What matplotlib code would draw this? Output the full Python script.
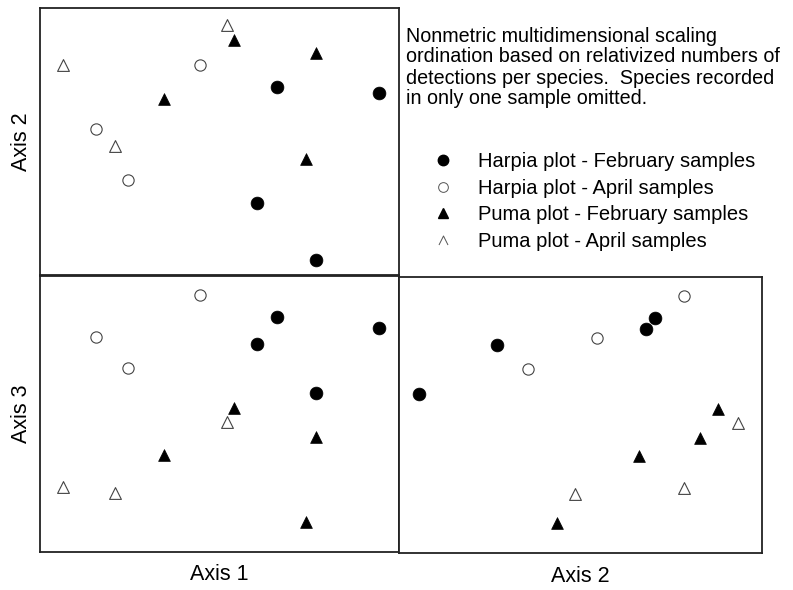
import matplotlib
matplotlib.use("Agg")
import matplotlib.pyplot as plt
from matplotlib.lines import Line2D
from matplotlib.path import Path

plt.rcParams['font.family'] = ['Liberation Sans', 'DejaVu Sans']

# NMS scores (axis ranges -1..1)
harpia_feb_ax1 = [0.32, 0.89, 0.21, 0.54]
harpia_feb_ax2 = [0.41, 0.36, -0.46, -0.89]
harpia_feb_ax3 = [0.70, 0.62, 0.51, 0.15]

harpia_apr_ax1 = [-0.11, -0.69, -0.51]
harpia_apr_ax2 = [0.57, 0.09, -0.29]
harpia_apr_ax3 = [0.86, 0.56, 0.33]

puma_feb_ax1 = [0.08, 0.54, -0.31, 0.48]
puma_feb_ax2 = [0.76, 0.66, 0.32, -0.13]
puma_feb_ax3 = [0.04, -0.17, -0.30, -0.78]

puma_apr_ax1 = [0.04, -0.87, -0.58]
puma_apr_ax2 = [0.87, 0.57, -0.03]
puma_apr_ax3 = [-0.06, -0.53, -0.57]

legend_labels = ["Harpia plot - February samples",
                 "Harpia plot - April samples",
                 "Puma plot - February samples",
                 "Puma plot - April samples"]

note_lines = ["Nonmetric multidimensional scaling",
              "ordination based on relativized numbers of",
              "detections per species.  Species recorded",
              "in only one sample omitted."]

groups = [
    dict(ax=(harpia_feb_ax1, harpia_feb_ax2, harpia_feb_ax3), marker='o', s=85, fc='black', ec='black', lw=0.5),
    dict(ax=(harpia_apr_ax1, harpia_apr_ax2, harpia_apr_ax3), marker='o', s=66, fc='white', ec='#444444', lw=0.8),
    dict(ax=(puma_feb_ax1, puma_feb_ax2, puma_feb_ax3), marker='^', s=72, fc='black', ec='black', lw=0.5),
    dict(ax=(puma_apr_ax1, puma_apr_ax2, puma_apr_ax3), marker='^', s=72, fc='white', ec='#444444', lw=0.8),
]

W, H = 793, 590
fig = plt.figure(figsize=(W / 100, H / 100), dpi=100)

def box(l, t, r, b):
    return [l / W, 1 - b / H, (r - l) / W, (b - t) / H]

ax12 = fig.add_axes(box(40, 8, 399, 275))
ax13 = fig.add_axes(box(40, 276, 399, 552))
ax23 = fig.add_axes(box(399, 277, 762, 553))

panels = [(ax12, 0, 1), (ax13, 0, 2), (ax23, 1, 2)]
for ax, ix, iy in panels:
    for g in groups:
        ax.scatter(g['ax'][ix], g['ax'][iy], marker=g['marker'], s=g['s'],
                   facecolor=g['fc'], edgecolor=g['ec'], linewidth=g['lw'], zorder=3)
    ax.set_xlim(-1, 1)
    ax.set_ylim(-1, 1)
    ax.set_xticks([])
    ax.set_yticks([])
    for sp in ax.spines.values():
        sp.set_linewidth(1.3)
        sp.set_color('#222222')

ax12.set_ylabel('Axis 2', fontsize=15.5, labelpad=6)
ax13.set_ylabel('Axis 3', fontsize=15.5, labelpad=6)
ax13.set_xlabel('Axis 1', fontsize=15.5, labelpad=9)
ax23.set_xlabel('Axis 2', fontsize=15.5, labelpad=9)

# note in the upper right corner
for i, line in enumerate(note_lines):
    fig.text(406 / W, 1 - (36 + i * 21) / H, line, fontsize=14.2, va='center', ha='left')

caret = Path([(-1, -1), (0, 1), (1, -1)], [Path.MOVETO, Path.LINETO, Path.LINETO])
handles = [
    Line2D([], [], linestyle='none', marker='o', markersize=7.5, mfc='black', mec='black'),
    Line2D([], [], linestyle='none', marker='o', markersize=7, mfc='white', mec='#555555', mew=0.7),
    Line2D([], [], linestyle='none', marker='^', markersize=7.5, mfc='black', mec='black'),
    Line2D([], [], linestyle='none', marker=caret, markersize=6.5, mfc='none', mec='#555555', mew=0.7),
]
fig.legend(handles, legend_labels, loc='upper left', bbox_to_anchor=(433 / W, 1 - 152 / H),
           frameon=False, fontsize=14.5, borderpad=0, borderaxespad=0,
           handlelength=1.0, handletextpad=1.24, labelspacing=0.38)

fig.savefig('out.png', dpi=100)
